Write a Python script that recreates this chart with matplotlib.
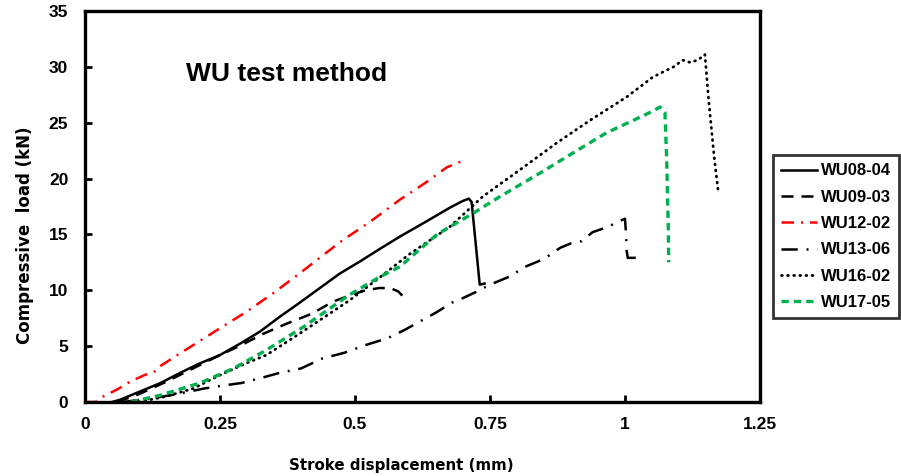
import matplotlib
matplotlib.use("Agg")
import matplotlib.pyplot as plt

plt.rcParams['font.family'] = ['Liberation Sans', 'DejaVu Sans']
plt.rcParams['font.weight'] = 'bold'

# WU08-04 (solid)
x_0804 = [0.05, 0.065, 0.10, 0.14, 0.176, 0.21, 0.25, 0.29, 0.324, 0.36, 0.398, 0.435, 0.472, 0.51, 0.546, 0.583, 0.63, 0.676, 0.70, 0.711, 0.716, 0.731, 0.74]
y_0804 = [0, 0.2, 0.9, 1.7, 2.6, 3.4, 4.2, 5.3, 6.3, 7.6, 8.9, 10.2, 11.5, 12.6, 13.7, 14.8, 16.1, 17.4, 18.0, 18.2, 17.9, 10.5, 10.6]
# WU09-03 (dashed)
x_0903 = [0.06, 0.10, 0.15, 0.20, 0.25, 0.29, 0.33, 0.373, 0.42, 0.46, 0.50, 0.52, 0.545, 0.565, 0.58, 0.59, 0.60]
y_0903 = [0, 0.7, 1.8, 3.0, 4.2, 5.1, 6.1, 7.0, 7.9, 9.0, 9.7, 10.0, 10.2, 10.2, 9.9, 9.4, 9.3]
# WU12-02 (red dash-dot)
x_1202 = [0, 0.02, 0.028, 0.059, 0.083, 0.11, 0.133, 0.139, 0.181, 0.25, 0.30, 0.349, 0.40, 0.472, 0.53, 0.583, 0.63, 0.67, 0.70]
y_1202 = [0, 0, 0.35, 1.1, 1.8, 2.4, 2.8, 3.2, 4.5, 6.6, 8.1, 9.75, 11.6, 14.3, 16.2, 18.1, 19.6, 21.0, 21.6]
# WU13-06 (long dash-dot)
x_1306 = [0.07, 0.12, 0.17, 0.22, 0.26, 0.29, 0.33, 0.36, 0.40, 0.44, 0.48, 0.52, 0.56, 0.59, 0.62, 0.65, 0.68, 0.70, 0.722, 0.75, 0.77, 0.79, 0.81, 0.83, 0.85, 0.88, 0.90, 0.92, 0.94, 0.97, 0.985, 1.0, 1.002, 1.003, 1.005, 1.02]
y_1306 = [0, 0.3, 0.7, 1.2, 1.5, 1.7, 2.2, 2.6, 3.0, 3.9, 4.4, 5.1, 5.7, 6.4, 7.2, 8.0, 8.9, 9.3, 9.8, 10.5, 10.9, 11.3, 12.0, 12.4, 12.8, 13.8, 14.2, 14.4, 15.2, 15.7, 16.1, 16.4, 15.0, 13.6, 12.9, 12.9]
# WU16-02 (dotted)
x_1602 = [0.10, 0.15, 0.20, 0.25, 0.30, 0.336, 0.40, 0.49, 0.55, 0.60, 0.676, 0.737, 0.806, 0.874, 0.935, 1.003, 1.052, 1.09, 1.107, 1.12, 1.135, 1.148, 1.155, 1.165, 1.173]
y_1602 = [0, 0.5, 1.2, 2.4, 3.5, 4.2, 6.2, 9.1, 11.3, 13.2, 15.7, 18.4, 20.8, 23.2, 25.2, 27.3, 29.1, 30.0, 30.6, 30.4, 30.6, 31.1, 27.0, 22.0, 18.7]
# WU17-05 (green dashed)
x_1705 = [0.085, 0.139, 0.213, 0.275, 0.336, 0.404, 0.49, 0.546, 0.583, 0.652, 0.719, 0.769, 0.843, 0.904, 0.966, 1.015, 1.05, 1.065, 1.074, 1.077, 1.08, 1.081]
y_1705 = [0, 0.6, 1.7, 3.0, 4.65, 6.7, 9.6, 11.2, 12.1, 15.0, 16.9, 18.4, 20.5, 22.3, 24.1, 25.2, 26.0, 26.4, 25.9, 22.0, 16.0, 12.5]

x_ticks = [0, 0.25, 0.5, 0.75, 1, 1.25]
x_ticklabels = ['0', '0.25', '0.5', '0.75', '1', '1.25']
y_ticks = [0, 5, 10, 15, 20, 25, 30, 35]

fig = plt.figure(figsize=(9.01, 4.76), dpi=100)
ax = fig.add_axes([0.0943, 0.1555, 0.7492, 0.8215])

ax.plot(x_0804, y_0804, color='black', lw=1.8, ls='-', label='WU08-04')
ax.plot(x_0903, y_0903, color='black', lw=1.8, dashes=(4.8, 3.2), label='WU09-03')
ax.plot(x_1202, y_1202, color='red', lw=1.8, dashes=(5, 2.8, 0.8, 2.8), label='WU12-02')
ax.plot(x_1306, y_1306, color='black', lw=1.8, dashes=(6.5, 3.5, 0.8, 3.5), label='WU13-06')
l16, = ax.plot(x_1602, y_1602, color='black', lw=2.0, dashes=(0.3, 1.9), label='WU16-02')
l16.set_dash_capstyle('round')
ax.plot(x_1705, y_1705, color='#00b050', lw=2.4, dashes=(2.2, 1.5), label='WU17-05')

ax.set_xlim(0, 1.25)
ax.set_ylim(0, 35)
ax.set_xticks(x_ticks)
ax.set_xticklabels(x_ticklabels)
ax.set_yticks(y_ticks)
for s in ax.spines.values():
    s.set_linewidth(2.4)
ax.tick_params(direction='in', length=5, width=2, labelsize=12.5)
ax.tick_params(axis='y', pad=12)
ax.tick_params(axis='x', pad=11)
for lab in ax.get_xticklabels() + ax.get_yticklabels():
    lab.set_fontweight('bold')

ax.set_xlabel('Stroke displacement (mm)', fontsize=10.8, fontweight='bold',
              family=['DejaVu Sans'])
ax.set_ylabel('Compressive  load (kN)', fontsize=12, fontweight='bold',
              family=['DejaVu Sans'])
ax.xaxis.set_label_coords(0.468, -0.142)
ax.yaxis.set_label_coords(-0.076, 0.427)

ax.text(0.374, 29.4, 'WU test method', fontsize=19, fontweight='bold', ha='center', va='center')

leg = fig.legend(loc='upper left', bbox_to_anchor=(773/901, 1 - 155/476), fontsize=12,
                 frameon=True, fancybox=False, edgecolor='black', handlelength=2.15,
                 handletextpad=0.2, borderpad=0.5, labelspacing=0.68, borderaxespad=0)
leg.get_frame().set_linewidth(2)
for t in leg.get_texts():
    t.set_fontweight('bold')

fig.savefig('out.png', dpi=100)
